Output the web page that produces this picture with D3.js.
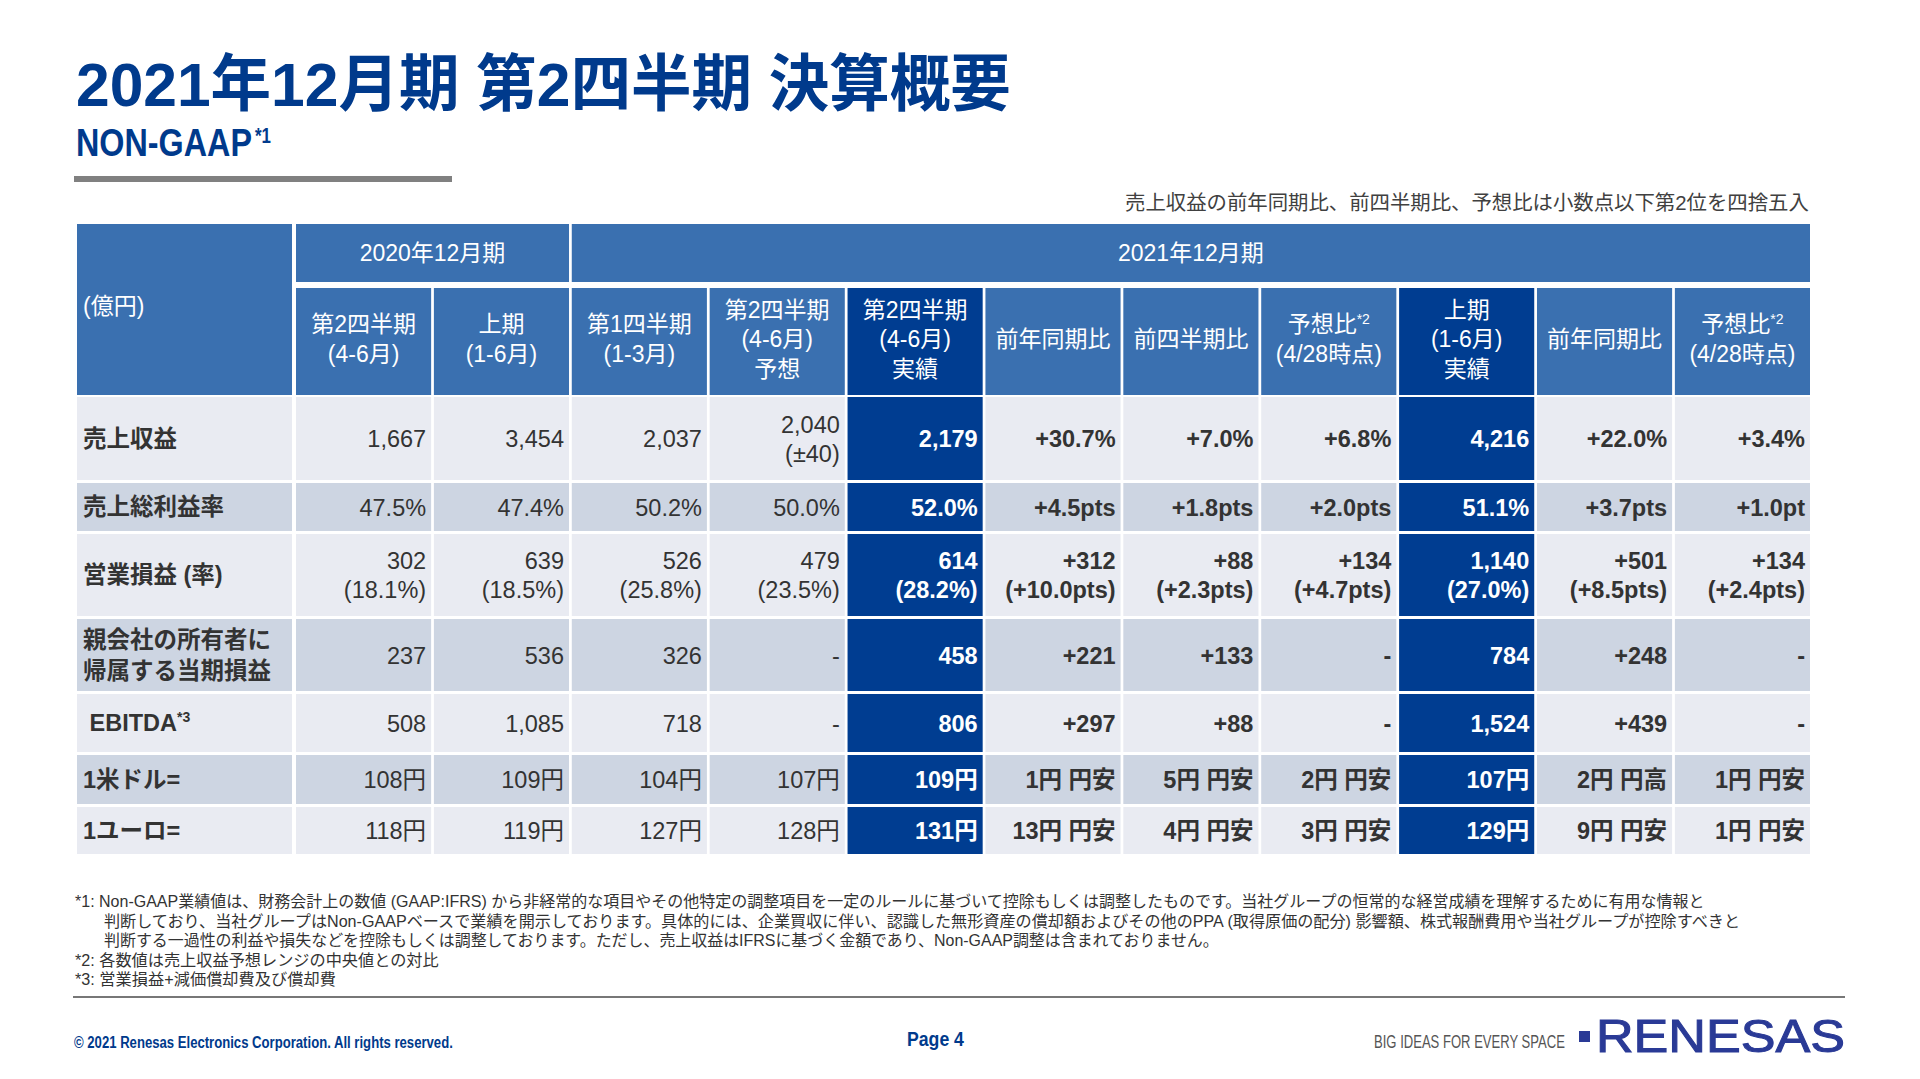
<!DOCTYPE html>
<html><head><meta charset="utf-8">
<script src="https://cdn.jsdelivr.net/npm/d3@7"></script>
<style>
html,body{margin:0;padding:0;background:#fff;}
svg{display:block;font-family:"Liberation Sans",Arial,"Noto Sans CJK JP",sans-serif;}
</style></head><body>
<svg id="c" width="1920" height="1079"></svg>
<script>
// ---------- DATA ----------
const title = "2021年12月期 第2四半期 決算概要";
const subtitle = "NON-GAAP";
const subtitleSup = "*1";
const note = "売上収益の前年同期比、前四半期比、予想比は小数点以下第2位を四捨五入";
const unitLabel = "(億円)";
const groupLabels = ["2020年12月期", "2021年12月期"];
const groupSpans = [[0, 1], [2, 10]];
const columnHeaders = [
  ["第2四半期", "(4-6月)"],
  ["上期", "(1-6月)"],
  ["第1四半期", "(1-3月)"],
  ["第2四半期", "(4-6月)", "予想"],
  ["第2四半期", "(4-6月)", "実績"],
  ["前年同期比"],
  ["前四半期比"],
  ["予想比*2", "(4/28時点)"],
  ["上期", "(1-6月)", "実績"],
  ["前年同期比"],
  ["予想比*2", "(4/28時点)"]
];
const rowLabels = [
  ["売上収益"],
  ["売上総利益率"],
  ["営業損益 (率)"],
  ["親会社の所有者に", "帰属する当期損益"],
  ["\u00A0EBITDA*3"],
  ["1米ドル="],
  ["1ユーロ="]
];
const q2_2020   = ["1,667", "47.5%", "302|(18.1%)", "237", "508", "108円", "118円"];
const h1_2020   = ["3,454", "47.4%", "639|(18.5%)", "536", "1,085", "109円", "119円"];
const q1_2021   = ["2,037", "50.2%", "526|(25.8%)", "326", "718", "104円", "127円"];
const q2fc_2021 = ["2,040|(±40)", "50.0%", "479|(23.5%)", "-", "-", "107円", "128円"];
const q2_2021   = ["2,179", "52.0%", "614|(28.2%)", "458", "806", "109円", "131円"];
const yoy_q2    = ["+30.7%", "+4.5pts", "+312|(+10.0pts)", "+221", "+297", "1円 円安", "13円 円安"];
const qoq_q2    = ["+7.0%", "+1.8pts", "+88|(+2.3pts)", "+133", "+88", "5円 円安", "4円 円安"];
const vsfc_q2   = ["+6.8%", "+2.0pts", "+134|(+4.7pts)", "-", "-", "2円 円安", "3円 円安"];
const h1_2021   = ["4,216", "51.1%", "1,140|(27.0%)", "784", "1,524", "107円", "129円"];
const yoy_h1    = ["+22.0%", "+3.7pts", "+501|(+8.5pts)", "+248", "+439", "2円 円高", "9円 円安"];
const vsfc_h1   = ["+3.4%", "+1.0pt", "+134|(+2.4pts)", "-", "-", "1円 円安", "1円 円安"];
const highlightCols = [4, 8];
const footnotes = [
  "*1: Non-GAAP業績値は、財務会計上の数値 (GAAP:IFRS) から非経常的な項目やその他特定の調整項目を一定のルールに基づいて控除もしくは調整したものです。当社グループの恒常的な経営成績を理解するために有用な情報と",
  "判断しており、当社グループはNon-GAAPベースで業績を開示しております。具体的には、企業買収に伴い、認識した無形資産の償却額およびその他のPPA (取得原価の配分) 影響額、株式報酬費用や当社グループが控除すべきと",
  "判断する一過性の利益や損失などを控除もしくは調整しております。ただし、売上収益はIFRSに基づく金額であり、Non-GAAP調整は含まれておりません。",
  "*2: 各数値は売上収益予想レンジの中央値との対比",
  "*3: 営業損益+減価償却費及び償却費"
];
const copyright = "© 2021 Renesas Electronics Corporation. All rights reserved.";
const pageLabel = "Page 4";
const tagline = "BIG IDEAS FOR EVERY SPACE";
const logoText = "RENESAS";

const series = [q2_2020, h1_2020, q1_2021, q2fc_2021, q2_2021, yoy_q2, qoq_q2, vsfc_q2, h1_2021, yoy_h1, vsfc_h1];

// ---------- STYLE / LAYOUT ----------
const C = {
  title: "#003A8C", mid: "#3A70B0", dark: "#003D91",
  light: "#E9EBF2", shade: "#CDD5E2", text: "#333333"
};
const svg = d3.select("#c");
svg.append("rect").attr("width", 1920).attr("height", 1079).attr("fill", "#fff");

const x = d3.scaleBand().domain(d3.range(series.length)).range([296, 1810]).paddingInner(0.02);
const rowHeights = [83, 48, 82, 72, 58, 49, 47];
const rowGap = 3;
const rowTops = [];
rowHeights.reduce((acc, h) => { rowTops.push(acc); return acc + h + rowGap; }, 397);
const labelX0 = 77, labelX1 = 292;
const hdr1 = [224, 282], hdr2 = [288, 395];

function supText(sel, str, size, supSize) {
  const parts = str.split("*");
  sel.append("tspan").text(parts[0]);
  if (parts.length > 1) {
    sel.append("tspan").attr("font-size", supSize).attr("dy", -size * 0.38).text("*" + parts[1]);
  }
}
// Place a text at (x0, y0) scaled horizontally so it spans exactly `width` pixels.
function fitText(x0, y0, width, str, attrs) {
  const t = svg.append("text").attr("x", 0).attr("y", 0).text(str);
  Object.entries(attrs).forEach(([k, v]) => t.attr(k, v));
  const w = t.node().getComputedTextLength();
  t.attr("transform", `translate(${x0},${y0}) scale(${width / w},1)`);
  return t;
}

// ---------- TITLE AREA ----------
fitText(76, 106, 935, title, {"font-size": 62, "font-weight": 700, fill: C.title});
fitText(76, 156, 176, subtitle, {"font-size": 38, "font-weight": 700, fill: C.title});
fitText(255, 143, 16, subtitleSup, {"font-size": 22, "font-weight": 700, fill: C.title});
svg.append("rect").attr("x", 74).attr("y", 176).attr("width", 378).attr("height", 6).attr("fill", "#808080");
fitText(1125, 210, 684, note, {"font-size": 20, fill: "#404040"});

// ---------- HEADER ----------
const gH = svg.append("g");
gH.append("rect").attr("x", labelX0).attr("y", hdr1[0]).attr("width", labelX1 - labelX0)
  .attr("height", hdr2[1] - hdr1[0]).attr("fill", C.mid);
gH.append("text").attr("x", 83).attr("y", 314).attr("font-size", 23).attr("fill", "#fff").text(unitLabel);

groupLabels.forEach((lab, i) => {
  const [a, b] = groupSpans[i];
  const x0 = x(a), x1 = x(b) + x.bandwidth();
  gH.append("rect").attr("x", x0).attr("y", hdr1[0]).attr("width", x1 - x0).attr("height", hdr1[1] - hdr1[0]).attr("fill", C.mid);
  gH.append("text").attr("x", (x0 + x1) / 2).attr("y", (hdr1[0] + hdr1[1]) / 2 + 8).attr("text-anchor", "middle")
    .attr("font-size", 23).attr("fill", "#fff").text(lab);
});

columnHeaders.forEach((lines, i) => {
  const hl = highlightCols.includes(i);
  gH.append("rect").attr("x", x(i)).attr("y", hdr2[0]).attr("width", x.bandwidth()).attr("height", hdr2[1] - hdr2[0])
    .attr("fill", hl ? C.dark : C.mid);
  const cy = 339, lh = 29.5;
  lines.forEach((ln, k) => {
    const yc = cy + (k - (lines.length - 1) / 2) * lh;
    const t = gH.append("text").attr("x", x(i) + x.bandwidth() / 2).attr("y", yc + 8)
      .attr("text-anchor", "middle").attr("font-size", 23).attr("fill", "#fff");
    supText(t, ln, 23, 14);
  });
});

// ---------- BODY ----------
const gB = svg.append("g");
rowLabels.forEach((lab, r) => {
  const y0 = rowTops[r], h = rowHeights[r];
  const bg = r % 2 === 0 ? C.light : C.shade;
  gB.append("rect").attr("x", labelX0).attr("y", y0).attr("width", labelX1 - labelX0).attr("height", h).attr("fill", bg);
  const cy = y0 + h / 2;
  lab.forEach((ln, k) => {
    const yc = cy + (k - (lab.length - 1) / 2) * 31;
    const t = gB.append("text").attr("x", 83).attr("y", yc + 8).attr("font-size", 23.5).attr("font-weight", 700)
      .attr("fill", C.text).style("white-space", "pre");
    supText(t, ln, 23.5, 14);
  });
  series.forEach((col, c) => {
    const hl = highlightCols.includes(c);
    gB.append("rect").attr("x", x(c)).attr("y", y0).attr("width", x.bandwidth()).attr("height", h)
      .attr("fill", hl ? C.dark : bg);
    const vals = col[r].split("|");
    vals.forEach((v, k) => {
      const yc = cy + (k - (vals.length - 1) / 2) * 29;
      gB.append("text").attr("x", x(c) + x.bandwidth() - 5).attr("y", yc + 8.5)
        .attr("text-anchor", "end").attr("font-size", 23.5)
        .attr("font-weight", c >= 4 ? 700 : 400)
        .attr("fill", hl ? "#fff" : C.text).text(v);
    });
  });
});

// ---------- FOOTNOTES ----------
const fnX = [75, 104, 104, 75, 75];
const fnEnd = [1705, 1742, 1219, 439, 336];
footnotes.forEach((f, i) => {
  fitText(fnX[i], 907 + i * 19.5, fnEnd[i] - fnX[i], f, {"font-size": 16, fill: C.text});
});
svg.append("line").attr("x1", 73).attr("x2", 1845).attr("y1", 997).attr("y2", 997)
  .attr("stroke", "#4a4a4a").attr("stroke-width", 1.5);

// ---------- FOOTER ----------
fitText(74, 1048, 379, copyright, {"font-size": 16, "font-weight": 700, fill: C.title});
fitText(907, 1046, 57, pageLabel, {"font-size": 21, "font-weight": 700, fill: C.title});
fitText(1374, 1048, 191, tagline, {"font-size": 18, fill: "#555"});
svg.append("rect").attr("x", 1579).attr("y", 1031).attr("width", 11).attr("height", 11).attr("fill", "#2A3A96");
fitText(1596, 1052, 249, logoText, {"font-size": 46, "font-weight": 400, fill: "#2A3A96", stroke: "#2A3A96", "stroke-width": 1});
</script>
</body></html>
